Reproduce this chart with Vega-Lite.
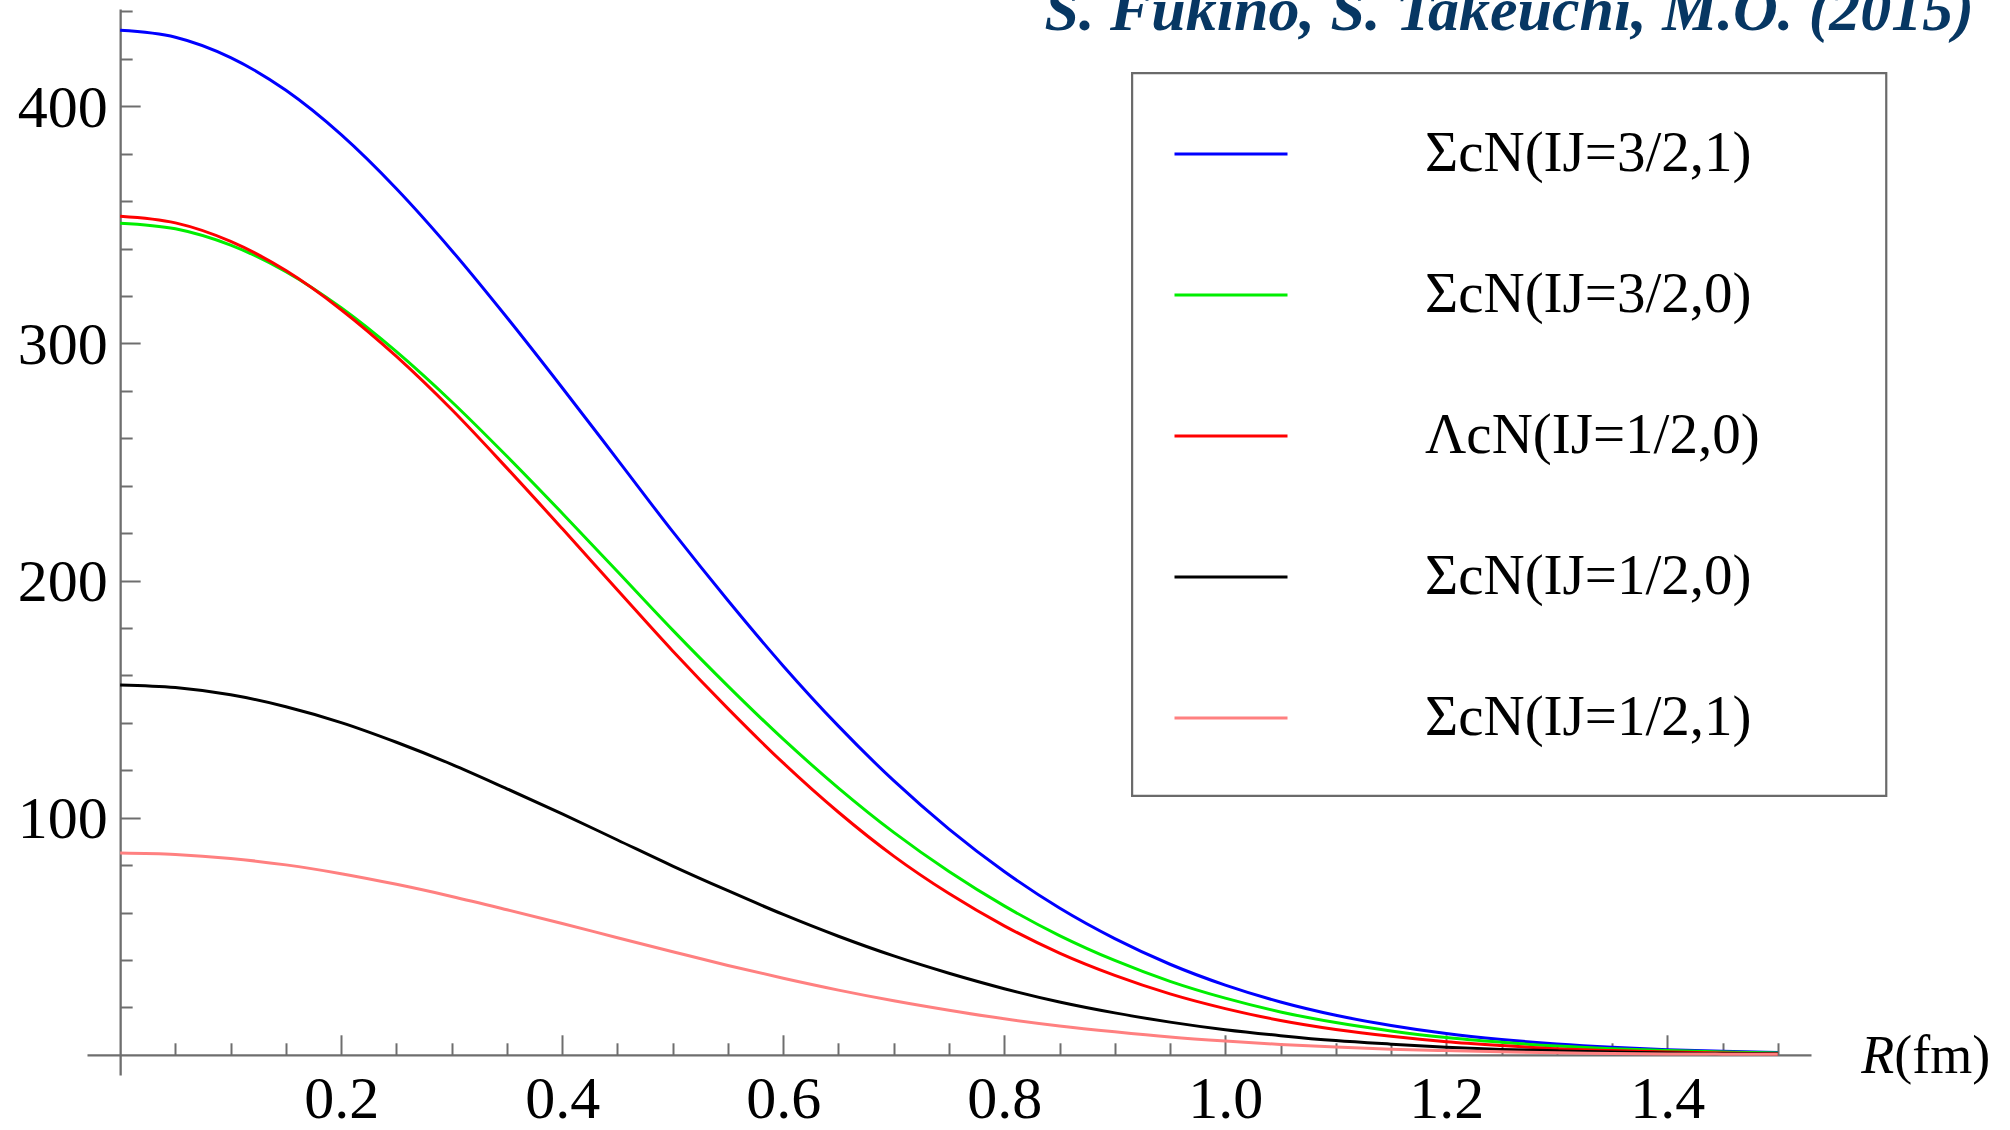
{
  "$schema": "https://vega.github.io/schema/vega-lite/v6.json",
  "width": 1724,
  "height": 1066,
  "autosize": {"type": "none"},
  "padding": {"left": 87, "top": 9, "right": 199, "bottom": 55},
  "background": "white",
  "config": {
    "view": {"stroke": null},
    "axis": {
      "grid": false,
      "domainColor": "#6e6e6e",
      "domainWidth": 2.3,
      "tickColor": "#6e6e6e",
      "tickWidth": 2,
      "labelFont": "Liberation Serif",
      "labelFontSize": 60,
      "labelColor": "#000000",
      "labelOverlap": false,
      "labelFlush": false,
      "labelBound": false,
      "title": null
    }
  },
  "layer": [
    {
      "data": {"values": [{}]},
      "mark": {"type": "rect", "fill": null, "stroke": "#6a6a6a", "strokeWidth": 2.2},
      "encoding": {
        "x": {"datum": 0.9157, "type": "quantitative"},
        "x2": {"datum": 1.5981},
        "y": {"datum": 414.0, "type": "quantitative"},
        "y2": {"datum": 109.2}
      }
    },
    {
      "data": {
        "values": [
          {"R": 0, "V": 432.0, "ch": "ΣcN(IJ=3/2,1)"},
          {"R": 0.05, "V": 429.1, "ch": "ΣcN(IJ=3/2,1)"},
          {"R": 0.1, "V": 420.5, "ch": "ΣcN(IJ=3/2,1)"},
          {"R": 0.15, "V": 406.7, "ch": "ΣcN(IJ=3/2,1)"},
          {"R": 0.2, "V": 388.0, "ch": "ΣcN(IJ=3/2,1)"},
          {"R": 0.25, "V": 365.2, "ch": "ΣcN(IJ=3/2,1)"},
          {"R": 0.3, "V": 339.2, "ch": "ΣcN(IJ=3/2,1)"},
          {"R": 0.35, "V": 310.9, "ch": "ΣcN(IJ=3/2,1)"},
          {"R": 0.4, "V": 281.3, "ch": "ΣcN(IJ=3/2,1)"},
          {"R": 0.45, "V": 251.0, "ch": "ΣcN(IJ=3/2,1)"},
          {"R": 0.5, "V": 220.6, "ch": "ΣcN(IJ=3/2,1)"},
          {"R": 0.55, "V": 191.6, "ch": "ΣcN(IJ=3/2,1)"},
          {"R": 0.6, "V": 164.0, "ch": "ΣcN(IJ=3/2,1)"},
          {"R": 0.65, "V": 138.6, "ch": "ΣcN(IJ=3/2,1)"},
          {"R": 0.7, "V": 115.6, "ch": "ΣcN(IJ=3/2,1)"},
          {"R": 0.75, "V": 95.2, "ch": "ΣcN(IJ=3/2,1)"},
          {"R": 0.8, "V": 77.3, "ch": "ΣcN(IJ=3/2,1)"},
          {"R": 0.85, "V": 61.9, "ch": "ΣcN(IJ=3/2,1)"},
          {"R": 0.9, "V": 49.0, "ch": "ΣcN(IJ=3/2,1)"},
          {"R": 0.95, "V": 38.2, "ch": "ΣcN(IJ=3/2,1)"},
          {"R": 1.0, "V": 29.4, "ch": "ΣcN(IJ=3/2,1)"},
          {"R": 1.05, "V": 22.3, "ch": "ΣcN(IJ=3/2,1)"},
          {"R": 1.1, "V": 16.7, "ch": "ΣcN(IJ=3/2,1)"},
          {"R": 1.15, "V": 12.4, "ch": "ΣcN(IJ=3/2,1)"},
          {"R": 1.2, "V": 9.0, "ch": "ΣcN(IJ=3/2,1)"},
          {"R": 1.25, "V": 6.5, "ch": "ΣcN(IJ=3/2,1)"},
          {"R": 1.3, "V": 4.6, "ch": "ΣcN(IJ=3/2,1)"},
          {"R": 1.35, "V": 3.2, "ch": "ΣcN(IJ=3/2,1)"},
          {"R": 1.4, "V": 2.2, "ch": "ΣcN(IJ=3/2,1)"},
          {"R": 1.45, "V": 1.5, "ch": "ΣcN(IJ=3/2,1)"},
          {"R": 1.5, "V": 1.0, "ch": "ΣcN(IJ=3/2,1)"},

          {"R": 0, "V": 350.7, "ch": "ΣcN(IJ=3/2,0)"},
          {"R": 0.05, "V": 348.3, "ch": "ΣcN(IJ=3/2,0)"},
          {"R": 0.1, "V": 341.4, "ch": "ΣcN(IJ=3/2,0)"},
          {"R": 0.15, "V": 330.2, "ch": "ΣcN(IJ=3/2,0)"},
          {"R": 0.2, "V": 315.0, "ch": "ΣcN(IJ=3/2,0)"},
          {"R": 0.25, "V": 296.5, "ch": "ΣcN(IJ=3/2,0)"},
          {"R": 0.3, "V": 275.4, "ch": "ΣcN(IJ=3/2,0)"},
          {"R": 0.35, "V": 252.4, "ch": "ΣcN(IJ=3/2,0)"},
          {"R": 0.4, "V": 228.4, "ch": "ΣcN(IJ=3/2,0)"},
          {"R": 0.45, "V": 203.8, "ch": "ΣcN(IJ=3/2,0)"},
          {"R": 0.5, "V": 179.1, "ch": "ΣcN(IJ=3/2,0)"},
          {"R": 0.55, "V": 155.5, "ch": "ΣcN(IJ=3/2,0)"},
          {"R": 0.6, "V": 133.1, "ch": "ΣcN(IJ=3/2,0)"},
          {"R": 0.65, "V": 112.5, "ch": "ΣcN(IJ=3/2,0)"},
          {"R": 0.7, "V": 93.8, "ch": "ΣcN(IJ=3/2,0)"},
          {"R": 0.75, "V": 77.3, "ch": "ΣcN(IJ=3/2,0)"},
          {"R": 0.8, "V": 62.8, "ch": "ΣcN(IJ=3/2,0)"},
          {"R": 0.85, "V": 50.3, "ch": "ΣcN(IJ=3/2,0)"},
          {"R": 0.9, "V": 39.8, "ch": "ΣcN(IJ=3/2,0)"},
          {"R": 0.95, "V": 31.0, "ch": "ΣcN(IJ=3/2,0)"},
          {"R": 1.0, "V": 23.9, "ch": "ΣcN(IJ=3/2,0)"},
          {"R": 1.05, "V": 18.1, "ch": "ΣcN(IJ=3/2,0)"},
          {"R": 1.1, "V": 13.6, "ch": "ΣcN(IJ=3/2,0)"},
          {"R": 1.15, "V": 10.1, "ch": "ΣcN(IJ=3/2,0)"},
          {"R": 1.2, "V": 7.3, "ch": "ΣcN(IJ=3/2,0)"},
          {"R": 1.25, "V": 5.3, "ch": "ΣcN(IJ=3/2,0)"},
          {"R": 1.3, "V": 3.7, "ch": "ΣcN(IJ=3/2,0)"},
          {"R": 1.35, "V": 2.6, "ch": "ΣcN(IJ=3/2,0)"},
          {"R": 1.4, "V": 1.8, "ch": "ΣcN(IJ=3/2,0)"},
          {"R": 1.45, "V": 1.2, "ch": "ΣcN(IJ=3/2,0)"},
          {"R": 1.5, "V": 0.8, "ch": "ΣcN(IJ=3/2,0)"},

          {"R": 0, "V": 353.6, "ch": "ΛcN(IJ=1/2,0)"},
          {"R": 0.05, "V": 350.8, "ch": "ΛcN(IJ=1/2,0)"},
          {"R": 0.1, "V": 343.0, "ch": "ΛcN(IJ=1/2,0)"},
          {"R": 0.15, "V": 330.7, "ch": "ΛcN(IJ=1/2,0)"},
          {"R": 0.2, "V": 314.2, "ch": "ΛcN(IJ=1/2,0)"},
          {"R": 0.25, "V": 294.5, "ch": "ΛcN(IJ=1/2,0)"},
          {"R": 0.3, "V": 272.1, "ch": "ΛcN(IJ=1/2,0)"},
          {"R": 0.35, "V": 247.4, "ch": "ΛcN(IJ=1/2,0)"},
          {"R": 0.4, "V": 221.9, "ch": "ΛcN(IJ=1/2,0)"},
          {"R": 0.45, "V": 196.0, "ch": "ΛcN(IJ=1/2,0)"},
          {"R": 0.5, "V": 170.3, "ch": "ΛcN(IJ=1/2,0)"},
          {"R": 0.55, "V": 146.0, "ch": "ΛcN(IJ=1/2,0)"},
          {"R": 0.6, "V": 123.1, "ch": "ΛcN(IJ=1/2,0)"},
          {"R": 0.65, "V": 102.3, "ch": "ΛcN(IJ=1/2,0)"},
          {"R": 0.7, "V": 83.8, "ch": "ΛcN(IJ=1/2,0)"},
          {"R": 0.75, "V": 68.0, "ch": "ΛcN(IJ=1/2,0)"},
          {"R": 0.8, "V": 54.4, "ch": "ΛcN(IJ=1/2,0)"},
          {"R": 0.85, "V": 42.9, "ch": "ΛcN(IJ=1/2,0)"},
          {"R": 0.9, "V": 33.5, "ch": "ΛcN(IJ=1/2,0)"},
          {"R": 0.95, "V": 25.7, "ch": "ΛcN(IJ=1/2,0)"},
          {"R": 1.0, "V": 19.5, "ch": "ΛcN(IJ=1/2,0)"},
          {"R": 1.05, "V": 14.5, "ch": "ΛcN(IJ=1/2,0)"},
          {"R": 1.1, "V": 10.7, "ch": "ΛcN(IJ=1/2,0)"},
          {"R": 1.15, "V": 7.8, "ch": "ΛcN(IJ=1/2,0)"},
          {"R": 1.2, "V": 5.5, "ch": "ΛcN(IJ=1/2,0)"},
          {"R": 1.25, "V": 3.9, "ch": "ΛcN(IJ=1/2,0)"},
          {"R": 1.3, "V": 2.6, "ch": "ΛcN(IJ=1/2,0)"},
          {"R": 1.35, "V": 1.8, "ch": "ΛcN(IJ=1/2,0)"},
          {"R": 1.4, "V": 1.2, "ch": "ΛcN(IJ=1/2,0)"},
          {"R": 1.45, "V": 0.8, "ch": "ΛcN(IJ=1/2,0)"},
          {"R": 1.5, "V": 0.5, "ch": "ΛcN(IJ=1/2,0)"},

          {"R": 0, "V": 156.0, "ch": "ΣcN(IJ=1/2,0)"},
          {"R": 0.05, "V": 154.9, "ch": "ΣcN(IJ=1/2,0)"},
          {"R": 0.1, "V": 151.8, "ch": "ΣcN(IJ=1/2,0)"},
          {"R": 0.15, "V": 146.8, "ch": "ΣcN(IJ=1/2,0)"},
          {"R": 0.2, "V": 140.1, "ch": "ΣcN(IJ=1/2,0)"},
          {"R": 0.25, "V": 131.8, "ch": "ΣcN(IJ=1/2,0)"},
          {"R": 0.3, "V": 122.5, "ch": "ΣcN(IJ=1/2,0)"},
          {"R": 0.35, "V": 112.2, "ch": "ΣcN(IJ=1/2,0)"},
          {"R": 0.4, "V": 101.6, "ch": "ΣcN(IJ=1/2,0)"},
          {"R": 0.45, "V": 90.6, "ch": "ΣcN(IJ=1/2,0)"},
          {"R": 0.5, "V": 79.6, "ch": "ΣcN(IJ=1/2,0)"},
          {"R": 0.55, "V": 69.2, "ch": "ΣcN(IJ=1/2,0)"},
          {"R": 0.6, "V": 59.2, "ch": "ΣcN(IJ=1/2,0)"},
          {"R": 0.65, "V": 50.0, "ch": "ΣcN(IJ=1/2,0)"},
          {"R": 0.7, "V": 41.7, "ch": "ΣcN(IJ=1/2,0)"},
          {"R": 0.75, "V": 34.4, "ch": "ΣcN(IJ=1/2,0)"},
          {"R": 0.8, "V": 27.9, "ch": "ΣcN(IJ=1/2,0)"},
          {"R": 0.85, "V": 22.3, "ch": "ΣcN(IJ=1/2,0)"},
          {"R": 0.9, "V": 17.7, "ch": "ΣcN(IJ=1/2,0)"},
          {"R": 0.95, "V": 13.8, "ch": "ΣcN(IJ=1/2,0)"},
          {"R": 1.0, "V": 10.6, "ch": "ΣcN(IJ=1/2,0)"},
          {"R": 1.05, "V": 8.1, "ch": "ΣcN(IJ=1/2,0)"},
          {"R": 1.1, "V": 6.0, "ch": "ΣcN(IJ=1/2,0)"},
          {"R": 1.15, "V": 4.5, "ch": "ΣcN(IJ=1/2,0)"},
          {"R": 1.2, "V": 3.2, "ch": "ΣcN(IJ=1/2,0)"},
          {"R": 1.25, "V": 2.3, "ch": "ΣcN(IJ=1/2,0)"},
          {"R": 1.3, "V": 1.7, "ch": "ΣcN(IJ=1/2,0)"},
          {"R": 1.35, "V": 1.2, "ch": "ΣcN(IJ=1/2,0)"},
          {"R": 1.4, "V": 0.8, "ch": "ΣcN(IJ=1/2,0)"},
          {"R": 1.45, "V": 0.5, "ch": "ΣcN(IJ=1/2,0)"},
          {"R": 1.5, "V": 0.4, "ch": "ΣcN(IJ=1/2,0)"},

          {"R": 0, "V": 85.1, "ch": "ΣcN(IJ=1/2,1)"},
          {"R": 0.05, "V": 84.5, "ch": "ΣcN(IJ=1/2,1)"},
          {"R": 0.1, "V": 82.8, "ch": "ΣcN(IJ=1/2,1)"},
          {"R": 0.15, "V": 80.1, "ch": "ΣcN(IJ=1/2,1)"},
          {"R": 0.2, "V": 76.4, "ch": "ΣcN(IJ=1/2,1)"},
          {"R": 0.25, "V": 71.9, "ch": "ΣcN(IJ=1/2,1)"},
          {"R": 0.3, "V": 66.8, "ch": "ΣcN(IJ=1/2,1)"},
          {"R": 0.35, "V": 61.2, "ch": "ΣcN(IJ=1/2,1)"},
          {"R": 0.4, "V": 55.4, "ch": "ΣcN(IJ=1/2,1)"},
          {"R": 0.45, "V": 49.4, "ch": "ΣcN(IJ=1/2,1)"},
          {"R": 0.5, "V": 43.5, "ch": "ΣcN(IJ=1/2,1)"},
          {"R": 0.55, "V": 37.7, "ch": "ΣcN(IJ=1/2,1)"},
          {"R": 0.6, "V": 32.3, "ch": "ΣcN(IJ=1/2,1)"},
          {"R": 0.65, "V": 27.3, "ch": "ΣcN(IJ=1/2,1)"},
          {"R": 0.7, "V": 22.8, "ch": "ΣcN(IJ=1/2,1)"},
          {"R": 0.75, "V": 18.8, "ch": "ΣcN(IJ=1/2,1)"},
          {"R": 0.8, "V": 15.2, "ch": "ΣcN(IJ=1/2,1)"},
          {"R": 0.85, "V": 12.2, "ch": "ΣcN(IJ=1/2,1)"},
          {"R": 0.9, "V": 9.7, "ch": "ΣcN(IJ=1/2,1)"},
          {"R": 0.95, "V": 7.5, "ch": "ΣcN(IJ=1/2,1)"},
          {"R": 1.0, "V": 5.8, "ch": "ΣcN(IJ=1/2,1)"},
          {"R": 1.05, "V": 4.4, "ch": "ΣcN(IJ=1/2,1)"},
          {"R": 1.1, "V": 3.3, "ch": "ΣcN(IJ=1/2,1)"},
          {"R": 1.15, "V": 2.4, "ch": "ΣcN(IJ=1/2,1)"},
          {"R": 1.2, "V": 1.8, "ch": "ΣcN(IJ=1/2,1)"},
          {"R": 1.25, "V": 1.3, "ch": "ΣcN(IJ=1/2,1)"},
          {"R": 1.3, "V": 0.9, "ch": "ΣcN(IJ=1/2,1)"},
          {"R": 1.35, "V": 0.6, "ch": "ΣcN(IJ=1/2,1)"},
          {"R": 1.4, "V": 0.4, "ch": "ΣcN(IJ=1/2,1)"},
          {"R": 1.45, "V": 0.3, "ch": "ΣcN(IJ=1/2,1)"},
          {"R": 1.5, "V": 0.2, "ch": "ΣcN(IJ=1/2,1)"}
        ]
      },
      "mark": {"type": "line", "strokeWidth": 3, "interpolate": "monotone"},
      "encoding": {
        "x": {
          "field": "R",
          "type": "quantitative",
          "scale": {"domain": [-0.03, 1.53], "nice": false, "zero": false},
          "axis": {
            "offset": -20.2,
            "values": [0.05, 0.1, 0.15, 0.2, 0.25, 0.3, 0.35, 0.4, 0.45, 0.5, 0.55, 0.6, 0.65, 0.7, 0.75, 0.8, 0.85, 0.9, 0.95, 1.0, 1.05, 1.1, 1.15, 1.2, 1.25, 1.3, 1.35, 1.4, 1.45, 1.5],
            "labelExpr": "round(datum.value * 100) % 20 == 0 ? format(datum.value, '.1f') : ''",
            "tickSize": {"condition": {"test": "round(datum.value * 100) % 20 == 0", "value": -20}, "value": -12},
            "labelPadding": 35.6
          }
        },
        "y": {
          "field": "V",
          "type": "quantitative",
          "scale": {"domain": [-8.5, 441], "nice": false, "zero": false},
          "axis": {
            "offset": -33.15,
            "values": [20, 40, 60, 80, 100, 120, 140, 160, 180, 200, 220, 240, 260, 280, 300, 320, 340, 360, 380, 400, 420, 440],
            "labelExpr": "datum.value % 100 == 0 ? datum.label : ''",
            "tickSize": {"condition": {"test": "datum.value % 100 == 0", "value": -20}, "value": -12},
            "labelPadding": 33,
            "labelOffset": 2
          }
        },
        "color": {
          "field": "ch",
          "type": "nominal",
          "sort": null,
          "scale": {
            "domain": ["ΣcN(IJ=3/2,1)", "ΣcN(IJ=3/2,0)", "ΛcN(IJ=1/2,0)", "ΣcN(IJ=1/2,0)", "ΣcN(IJ=1/2,1)"],
            "range": ["#0000ff", "#00ee00", "#ff0000", "#000000", "#ff8080"]
          },
          "legend": {
            "orient": "none",
            "legendX": 1086,
            "legendY": 87,
            "title": null,
            "symbolType": "stroke",
            "symbolSize": 12769,
            "symbolStrokeWidth": 3,
            "labelFont": "Liberation Serif",
            "labelFontSize": 57,
            "labelColor": "#000000",
            "labelOffset": 136,
            "labelLimit": 600,
            "rowPadding": 55,
            "padding": 0
          }
        }
      }
    },
    {
      "data": {"values": [{}]},
      "mark": {"type": "text", "text": "R", "font": "Liberation Serif", "fontStyle": "italic", "fontSize": 54, "align": "left", "baseline": "alphabetic", "dy": 18},
      "encoding": {
        "x": {"datum": 1.5754, "type": "quantitative"},
        "y": {"datum": 0, "type": "quantitative"}
      }
    },
    {
      "data": {"values": [{}]},
      "mark": {"type": "text", "text": "(fm)", "font": "Liberation Serif", "fontSize": 54, "align": "left", "baseline": "alphabetic", "dy": 18},
      "encoding": {
        "x": {"datum": 1.6053, "type": "quantitative"},
        "y": {"datum": 0, "type": "quantitative"}
      }
    },
    {
      "data": {"values": [{}]},
      "mark": {
        "type": "text",
        "text": "S. Fukino, S. Takeuchi, M.O. (2015)",
        "font": "Liberation Serif",
        "fontSize": 62,
        "fontStyle": "italic",
        "fontWeight": "bold",
        "color": "#073763",
        "align": "right",
        "baseline": "alphabetic"
      },
      "encoding": {
        "x": {"datum": 1.6775, "type": "quantitative"},
        "y": {"datum": 432.2, "type": "quantitative"}
      }
    }
  ]
}
